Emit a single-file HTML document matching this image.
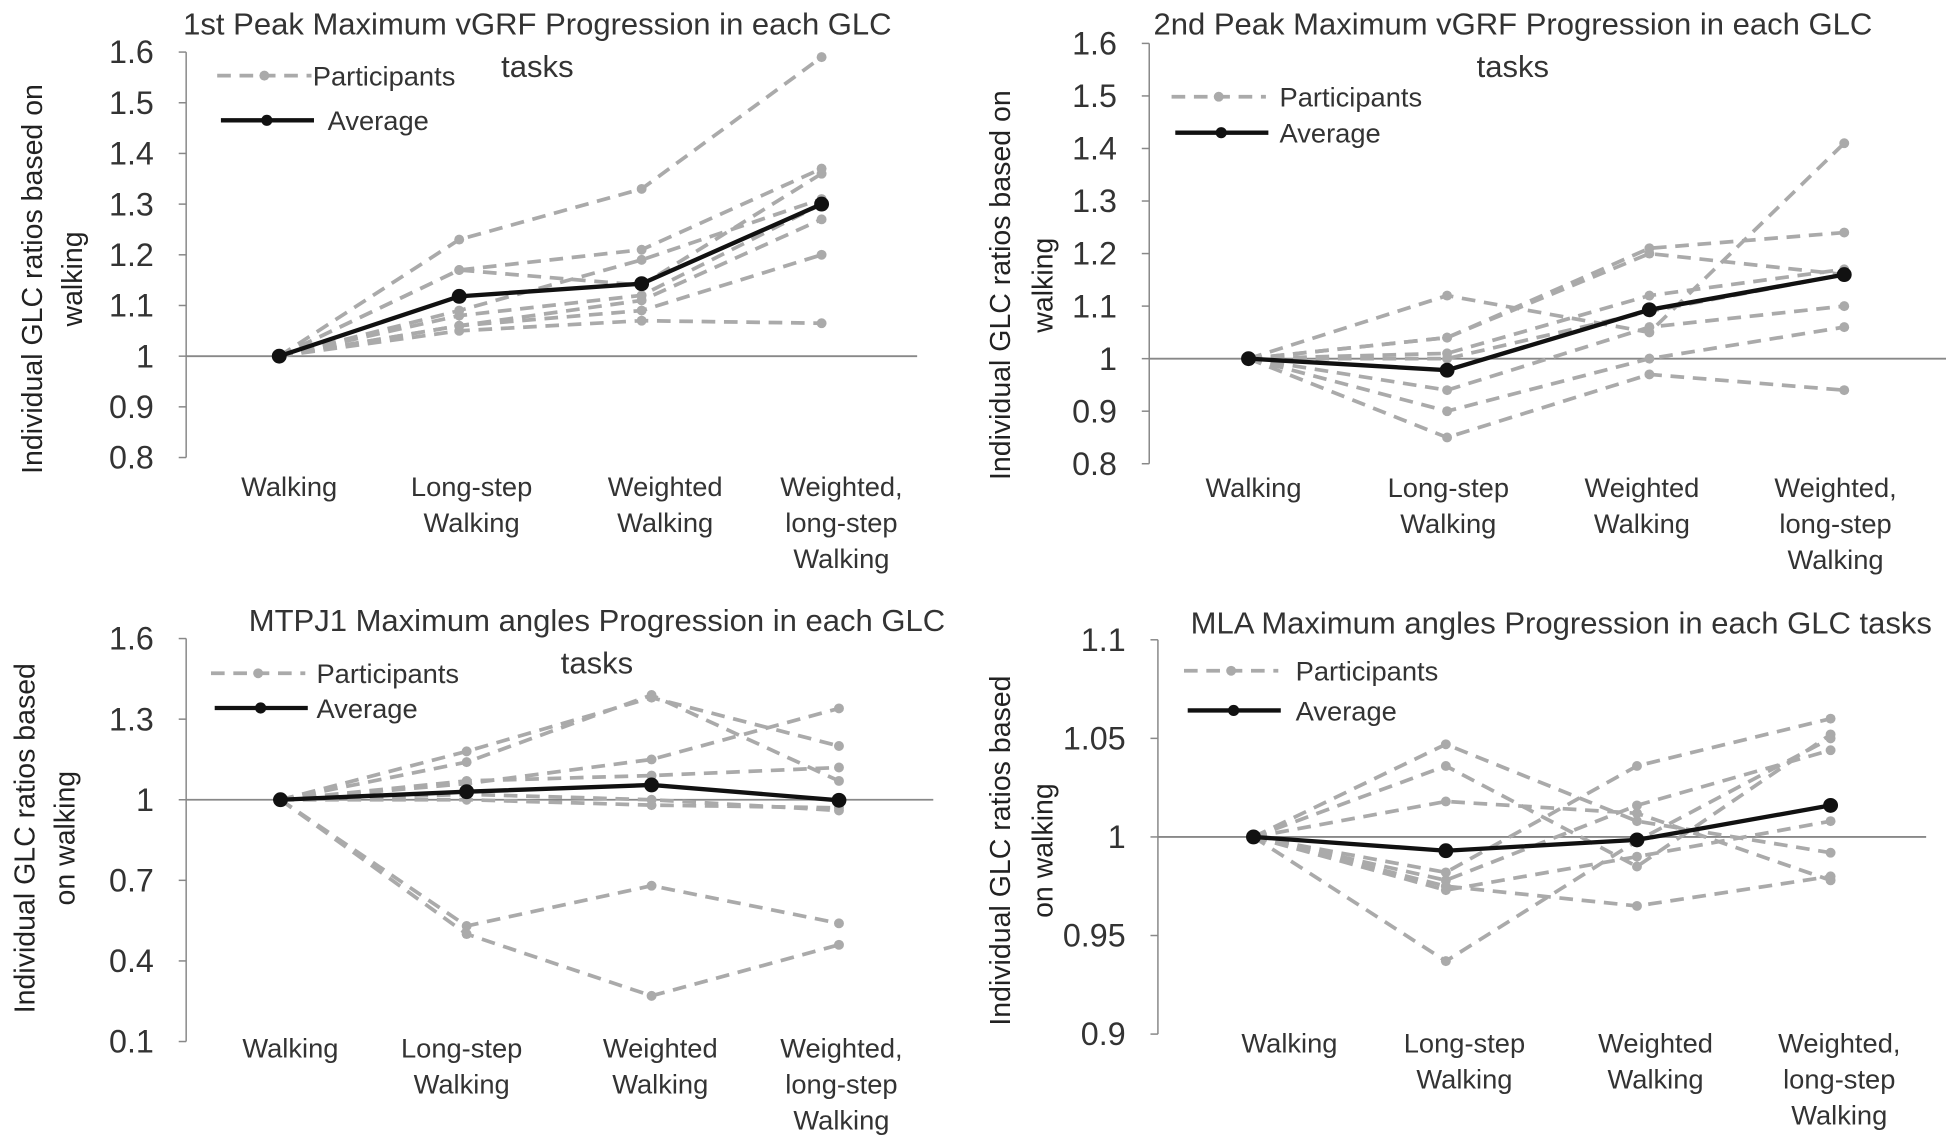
<!DOCTYPE html>
<html><head><meta charset="utf-8"><style>
html,body{margin:0;padding:0;background:#fff;width:1946px;height:1137px;overflow:hidden}
svg{display:block}
text{font-family:"Liberation Sans Narrow","Liberation Sans",sans-serif;fill:#333}
.yt{font-family:"Liberation Sans",sans-serif;fill:#222}
</style></head><body>
<svg id="fig" width="1946" height="1137" viewBox="0 0 1568 917" preserveAspectRatio="none" xmlns="http://www.w3.org/2000/svg"></svg>
<script>
const categories=["Walking","Long-step|Walking","Weighted|Walking","Weighted,|long-step|Walking"];
// panel 1
const p1Participants=[[1,1.23,1.33,1.59],[1,1.17,1.21,1.37],[1,1.17,1.14,1.36],[1,1.09,1.19,1.31],[1,1.08,1.12,1.30],[1,1.06,1.11,1.27],[1,1.06,1.09,1.20],[1,1.05,1.07,1.065]];
const p1Average=[1,1.118,1.143,1.30];
const p1Ticks=["0.8","0.9","1","1.1","1.2","1.3","1.4","1.5","1.6"];
// panel 2
const p2Participants=[[1,1.12,1.05,1.41],[1,1.04,1.21,1.24],[1,1.04,1.20,1.16],[1,1.01,1.12,1.17],[1,0.94,1.06,1.10],[1,0.90,1.00,1.06],[1,0.85,0.97,0.94],[1,1.00,1.09,1.16]];
const p2Average=[1,0.978,1.093,1.16];
const p2Ticks=["0.8","0.9","1","1.1","1.2","1.3","1.4","1.5","1.6"];
// panel 3
const p3Participants=[[1,1.18,1.38,1.20],[1,1.14,1.39,1.07],[1,1.06,1.15,1.34],[1,1.07,1.09,1.12],[1,1.02,1.00,0.96],[1,1.00,0.98,0.97],[1,0.53,0.68,0.54],[1,0.50,0.27,0.46]];
const p3Average=[1,1.03,1.055,0.998];
const p3Ticks=["0.1","0.4","0.7","1","1.3","1.6"];
// panel 4
const p4Participants=[[1,1.047,1.008,0.992],[1,1.036,0.985,1.052],[1,1.018,1.012,0.978],[1,0.982,1.036,1.060],[1,0.978,1.016,1.044],[1,0.975,0.965,0.980],[1,0.973,0.990,1.008],[1,0.937,0.998,1.050]];
const p4Average=[1,0.993,0.9985,1.016];
const p4Ticks=["0.9","0.95","1","1.05","1.1"];

const NS="http://www.w3.org/2000/svg";
const svg=document.getElementById('fig');
function mk(tag,attrs,parent){const e=document.createElementNS(NS,tag);for(const k in attrs)e.setAttribute(k,attrs[k]);(parent||svg).appendChild(e);return e;}

const panels=[
 {key:'vgrf1',title:["1st Peak Maximum vGRF Progression in each GLC","tasks"],titleX:433,titleY:[20,54],ymin:0.8,ymax:1.6,ticks:p1Ticks,part:p1Participants,avg:p1Average,ax:150,yTop:42,yBot:369,cx:[225,370,517,662],lineEnd:739,catY:400,catX:[233,380,536,678],ytitle:["Individual GLC ratios based on","walking"],ytX:[26,58],ytY:225,legX:175,legY:[61,97],legTextX:[252,264]},
 {key:'vgrf2',title:["2nd Peak Maximum vGRF Progression in each GLC","tasks"],titleX:1219,titleY:[20,54],ymin:0.8,ymax:1.6,ticks:p2Ticks,part:p2Participants,avg:p2Average,ax:926,yTop:35,yBot:374,cx:[1006,1166,1329,1486],lineEnd:1568,catY:401,catX:[1010,1167,1323,1479],ytitle:["Individual GLC ratios based on","walking"],ytX:[806,840],ytY:230,legX:944,legY:[78,107],legTextX:[1031,1031]},
 {key:'mtpj1',title:["MTPJ1 Maximum angles Progression in each GLC","tasks"],titleX:481,titleY:[501,535],ymin:0.1,ymax:1.6,ticks:p3Ticks,part:p3Participants,avg:p3Average,ax:150,yTop:515,yBot:840,cx:[226,376,525,676],lineEnd:752,catY:853,catX:[234,372,532,678],ytitle:["Individual GLC ratios based","on walking"],ytX:[20,52],ytY:676,legX:170,legY:[543,571],legTextX:[255,255]},
 {key:'mla',title:["MLA Maximum angles Progression in each GLC tasks"],titleX:1258,titleY:[503],ymin:0.9,ymax:1.1,ticks:p4Ticks,part:p4Participants,avg:p4Average,ax:933,yTop:516,yBot:834,cx:[1010,1165,1319,1475],lineEnd:1552,catY:849,catX:[1039,1180,1334,1482],ytitle:["Individual GLC ratios based","on walking"],ytX:[806,840],ytY:686,legX:954,legY:[541,573],legTextX:[1044,1044]}
];

panels.forEach(p=>{
 const g=mk('g',{});
 
 
 const y=v=>p.yBot-(v-p.ymin)/(p.ymax-p.ymin)*(p.yBot-p.yTop);
 p.title.forEach((t,i)=>{const e=mk('text',{x:p.titleX,y:p.titleY[i]+8,'text-anchor':'middle','font-size':25},g);e.textContent=t;
  });
 const ax=mk('line',{x1:p.ax,y1:p.yTop,x2:p.ax,y2:p.yBot,stroke:'#888','stroke-width':1.2},g);
 
 p.ticks.forEach(t=>{const v=parseFloat(t),yy=y(v);
  mk('line',{x1:p.ax-6,y1:yy,x2:p.ax,y2:yy,stroke:'#888','stroke-width':1.2},g);
  const e=mk('text',{x:p.ax-26,y:yy+9,'text-anchor':'end','font-size':26},g);e.textContent=t;
  });
 const bl=mk('line',{x1:p.ax,y1:y(1),x2:p.lineEnd,y2:y(1),stroke:'#888','stroke-width':1.5},g);
 
 const yt=mk('text',{class:'yt','font-size':23,'text-anchor':'middle',transform:`rotate(-90)`},g);
 p.ytitle.forEach((t,i)=>{const s=mk('tspan',{x:-p.ytY,y:p.ytX[i]+8},yt);s.textContent=t;});
 
 categories.forEach((c,i)=>{const e=mk('text',{'text-anchor':'middle','font-size':22},g);
  c.split('|').forEach((ln,j)=>{const s=mk('tspan',{x:p.catX[i],y:p.catY+j*29},e);s.textContent=ln;});
  });
 p.part.forEach(s=>{
  const pts=s.map((v,i)=>p.cx[i]+','+y(v)).join(' ');
  const l=mk('polyline',{points:pts,fill:'none',stroke:'#aaa','stroke-width':3,'stroke-dasharray':'11,7'},g);
  
  s.forEach((v,i)=>{const c=mk('circle',{cx:p.cx[i],cy:y(v),r:4,fill:'#aaa'},g);
   });
 });
 const pts=p.avg.map((v,i)=>p.cx[i]+','+y(v)).join(' ');
 const al=mk('polyline',{points:pts,fill:'none',stroke:'#111','stroke-width':3.5},g);
 
 p.avg.forEach((v,i)=>{const c=mk('circle',{cx:p.cx[i],cy:y(v),r:6,fill:'#111'},g);
  });
 const lg=mk('g',{},g);
 
 mk('line',{x1:p.legX,y1:p.legY[0],x2:p.legX+76,y2:p.legY[0],stroke:'#aaa','stroke-width':3,'stroke-dasharray':'11,7'},lg);
 mk('circle',{cx:p.legX+38,cy:p.legY[0],r:4,fill:'#aaa'},lg);
 const t1=mk('text',{x:p.legTextX[0],y:p.legY[0]+8,'font-size':22},lg);t1.textContent='Participants';
 
 mk('line',{x1:p.legX+3,y1:p.legY[1],x2:p.legX+78,y2:p.legY[1],stroke:'#111','stroke-width':3.5},lg);
 mk('circle',{cx:p.legX+40,cy:p.legY[1],r:4.5,fill:'#111'},lg);
 const t2=mk('text',{x:p.legTextX[1],y:p.legY[1]+8,'font-size':22},lg);t2.textContent='Average';
 
});
</script>
</body></html>
